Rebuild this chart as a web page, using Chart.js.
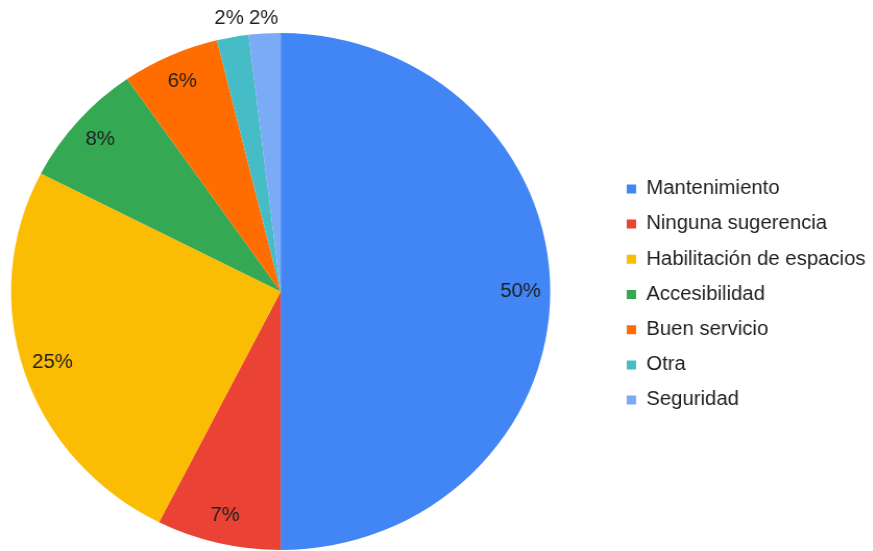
<!DOCTYPE html>
<html>
<head>
<meta charset="utf-8">
<script src="https://cdn.jsdelivr.net/npm/chart.js@4/dist/chart.umd.min.js"></script>
<style>
  html, body { margin: 0; padding: 0; background: #fff; }
  body { position: relative; width: 873px; height: 551px; overflow: hidden; }
  /* the source picture is slightly wider than tall, so the whole chart is stretched a little */
  #wrap { position: absolute; left: -49px; top: 0; width: 887px; height: 551px;
          transform: scaleX(1.0428); transform-origin: 0 0; }
  #chart { display: block; width: 887px; height: 551px; }
</style>
</head>
<body>
<div id="wrap"><canvas id="chart" width="887" height="551"></canvas></div>
<script>
// Data (percent of answers)
const categories = [
  "Mantenimiento",
  "Ninguna sugerencia",
  "Habilitación de espacios",
  "Accesibilidad",
  "Buen servicio",
  "Otra",
  "Seguridad"
];
const shares = [50, 7.45, 25.1, 7.8, 5.85, 1.9, 1.9];
const colors = ["#4285F4", "#EA4335", "#FBBC04", "#34A853", "#FF6D01", "#46BDC6", "#7BAAF7"];

const FONT = '"Liberation Sans", Arial, sans-serif';

// Percent labels inside the slices; tiny slices get theirs in a row above the pie
const sliceLabels = {
  id: "sliceLabels",
  afterDatasetsDraw(chart) {
    const ctx = chart.ctx;
    const meta = chart.getDatasetMeta(0);
    const total = shares.reduce((a, b) => a + b, 0);
    ctx.save();
    ctx.font = "19.5px " + FONT;
    ctx.fillStyle = "#1f1f1f";
    ctx.textAlign = "center";
    ctx.textBaseline = "middle";
    meta.data.forEach((arc, i) => {
      const pct = shares[i] / total * 100;
      const { x, y, startAngle, endAngle, outerRadius } =
        arc.getProps(["x", "y", "startAngle", "endAngle", "outerRadius"], true);
      const mid = (startAngle + endAngle) / 2;
      let r = outerRadius * 0.89;
      if (pct < 3) r = (outerRadius + 14.5) / Math.abs(Math.sin(mid));
      ctx.fillText(Math.round(pct) + "%", x + Math.cos(mid) * r, y + Math.sin(mid) * r);
    });
    ctx.restore();
  }
};

new Chart(document.getElementById("chart").getContext("2d"), {
  type: "pie",
  data: {
    labels: categories,
    datasets: [{
      data: shares,
      backgroundColor: colors,
      borderWidth: 0,
      hoverBorderWidth: 0,
      hoverOffset: 0
    }]
  },
  options: {
    responsive: false,
    maintainAspectRatio: false,
    animation: false,
    layout: { padding: { top: 33, bottom: 1, left: 0, right: 0 } },
    plugins: {
      legend: {
        position: "right",
        align: "center",
        // empty title only nudges the list down a few pixels
        title: { display: true, text: "", font: { size: 1, lineHeight: 1 }, padding: { top: 5, bottom: 0 } },
        labels: {
          boxWidth: 9,
          boxHeight: 9,
          padding: 15.7,
          color: "#1f1f1f",
          font: { family: FONT, size: 19.5 }
        }
      },
      tooltip: { enabled: false }
    }
  },
  plugins: [sliceLabels]
});
</script>
</body>
</html>
